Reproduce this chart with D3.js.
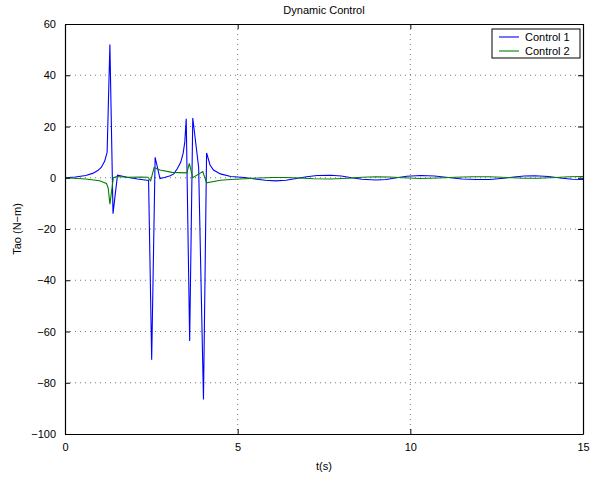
<!DOCTYPE html>
<html>
<head>
<meta charset="utf-8">
<script src="https://cdn.jsdelivr.net/npm/d3@7"></script>
<style>
  body { margin: 0; background: #fff; }
  text { font-family: "Liberation Sans", Arial, sans-serif; }
</style>
</head>
<body>
<div id="chart"></div>
<script>
// time samples and values
var t1 = [0, 0.3, 0.6, 0.8, 0.95, 1.05, 1.15, 1.22, 1.30, 1.39, 1.52, 1.8, 2.1, 2.37, 2.42,
          2.51, 2.61, 2.75, 2.9, 3.05, 3.15, 3.25, 3.35, 3.42, 3.47, 3.51, 3.61, 3.70, 3.80, 3.87,
          4.01, 4.10, 4.2, 4.3, 4.5, 4.8, 5.2, 5.5, 5.8, 6.1, 6.4, 6.7, 7.0, 7.3, 7.7, 8.0,
          8.3, 8.6, 9.0, 9.3, 9.6, 9.9, 10.3, 10.7, 11.1, 11.5, 11.9, 12.3, 12.7, 13.0, 13.3,
          13.6, 14.0, 14.4, 14.7, 15];
var control1 = [0, 0.3, 0.9, 1.7, 2.8, 4, 6.5, 10, 52, -14, 1, 0.2, -0.5, -1, -1,
                -71, 8, -0.3, 0.2, 0.8, 1.5, 3.5, 6, 9.5, 14, 23, -63.7, 23.3, 12, 4,
                -86.5, 9.7, 5, 3, 1.5, 0.5, 0.1, -0.5, -1.0, -1.2, -1.0, -0.3, 0.4, 0.9, 1.0, 0.7,
                0.0, -0.6, -0.9, -0.7, 0.0, 0.6, 0.9, 0.7, 0.1, -0.5, -0.7, -0.7, -0.2, 0.3, 0.7,
                0.8, 0.5, -0.2, -0.6, -0.7];

var t2 = [0, 0.6, 1.0, 1.2, 1.25, 1.30, 1.40, 1.5, 1.8, 2.2, 2.4, 2.48, 2.58, 2.75, 3.1,
          3.53, 3.60, 3.70, 3.99, 4.10, 4.5, 4.8, 5.2, 5.6, 6.0, 6.4, 6.8, 7.2, 7.7, 8.2,
          8.6, 9.0, 9.4, 9.8, 10.3, 10.8, 11.3, 11.8, 12.3, 12.8, 13.3, 13.7, 14.2, 14.6, 15];
var control2 = [0, -0.5, -1.2, -2.2, -4, -10.3, 0, 0.5, 0.2, 0.3, 0.2, -1.2, 4, 3, 2.1,
                1.9, 5.6, 0, 2.4, -2, -1.0, -0.7, -0.4, -0.1, 0.1, 0.1, -0.1, -0.4, -0.5, -0.2,
                0.2, 0.4, 0.3, 0.0, -0.3, -0.1, 0.2, 0.4, 0.4, 0.1, -0.2, -0.2, 0.1, 0.4, 0.5];

var xTicks = [0, 5, 10, 15];
var yTicks = [-100, -80, -60, -40, -20, 0, 20, 40, 60];
var seriesNames = ["Control 1", "Control 2"];
var seriesColors = ["#0000ff", "#008000"];

(function() {
    var width = 598, height = 481;
    var mLeft = 65, mRight = 583, mTop = 24, mBottom = 434;

    var svg = d3.select("#chart").append("svg")
        .attr("width", width)
        .attr("height", height);

    var x = d3.scaleLinear().domain([0, 15]).range([mLeft, mRight]);
    var y = d3.scaleLinear().domain([-100, 60]).range([mBottom, mTop]);

    // grid
    svg.append("g").selectAll("line").data(xTicks.slice(1, -1)).enter().append("line")
        .attr("x1", d => x(d)).attr("x2", d => x(d))
        .attr("y1", mTop).attr("y2", mBottom)
        .attr("stroke", "#555").attr("stroke-width", 0.8)
        .attr("stroke-dasharray", "1,4");
    svg.append("g").selectAll("line").data(yTicks.slice(1, -1)).enter().append("line")
        .attr("y1", d => y(d)).attr("y2", d => y(d))
        .attr("x1", mLeft).attr("x2", mRight)
        .attr("stroke", "#555").attr("stroke-width", 0.8)
        .attr("stroke-dasharray", "1,4");

    // lines
    var line = function(ts) {
        return d3.line().x((d, i) => x(ts[i])).y(d => y(d));
    };
    svg.append("path").datum(control1)
        .attr("fill", "none").attr("stroke", seriesColors[0]).attr("stroke-width", 1.1)
        .attr("d", line(t1));
    svg.append("path").datum(control2)
        .attr("fill", "none").attr("stroke", seriesColors[1]).attr("stroke-width", 1.1)
        .attr("d", line(t2));

    // axes (ticks inside, box on)
    var tickFmt = d3.format("d");
    svg.append("g").attr("transform", "translate(0," + mBottom + ")")
        .call(d3.axisBottom(x).tickValues(xTicks).tickSizeInner(-5).tickSizeOuter(0).tickPadding(9).tickFormat(tickFmt));
    svg.append("g").attr("transform", "translate(0," + mTop + ")")
        .call(d3.axisTop(x).tickValues(xTicks).tickSizeInner(-5).tickSizeOuter(0).tickFormat(""));
    svg.append("g").attr("transform", "translate(" + mLeft + ",0)")
        .call(d3.axisLeft(y).tickValues(yTicks).tickSizeInner(-5).tickSizeOuter(0).tickPadding(9).tickFormat(tickFmt));
    svg.append("g").attr("transform", "translate(" + mRight + ",0)")
        .call(d3.axisRight(y).tickValues(yTicks).tickSizeInner(-5).tickSizeOuter(0).tickFormat(""));

    svg.selectAll(".domain").attr("stroke", "#000").attr("stroke-width", 1.2);
    svg.selectAll(".tick line").attr("stroke", "#000");
    svg.selectAll(".tick text").attr("font-size", 11).attr("fill", "#000")
        .style("font-family", "'Liberation Sans', Arial, sans-serif");

    // titles
    svg.append("text").attr("x", (mLeft + mRight) / 2).attr("y", 14)
        .attr("text-anchor", "middle").attr("font-size", 11).text("Dynamic Control");
    svg.append("text").attr("x", (mLeft + mRight) / 2).attr("y", 470)
        .attr("text-anchor", "middle").attr("font-size", 11).text("t(s)");
    svg.append("text").attr("transform", "translate(21," + ((mTop + mBottom) / 2) + ") rotate(-90)")
        .attr("text-anchor", "middle").attr("font-size", 11).text("Tao (N\u2212m)");

    // legend
    var lg = svg.append("g").attr("transform", "translate(492,29)");
    lg.append("rect").attr("width", 88).attr("height", 29)
        .attr("fill", "#fff").attr("stroke", "#000").attr("stroke-width", 1);
    seriesNames.forEach(function(name, i) {
        var yy = 8 + i * 14;
        lg.append("line").attr("x1", 7).attr("x2", 27).attr("y1", yy).attr("y2", yy)
            .attr("stroke", seriesColors[i]).attr("stroke-width", 1.1);
        lg.append("text").attr("x", 33).attr("y", yy + 4)
            .attr("font-size", 11).text(name);
    });
})();
</script>
</body>
</html>
